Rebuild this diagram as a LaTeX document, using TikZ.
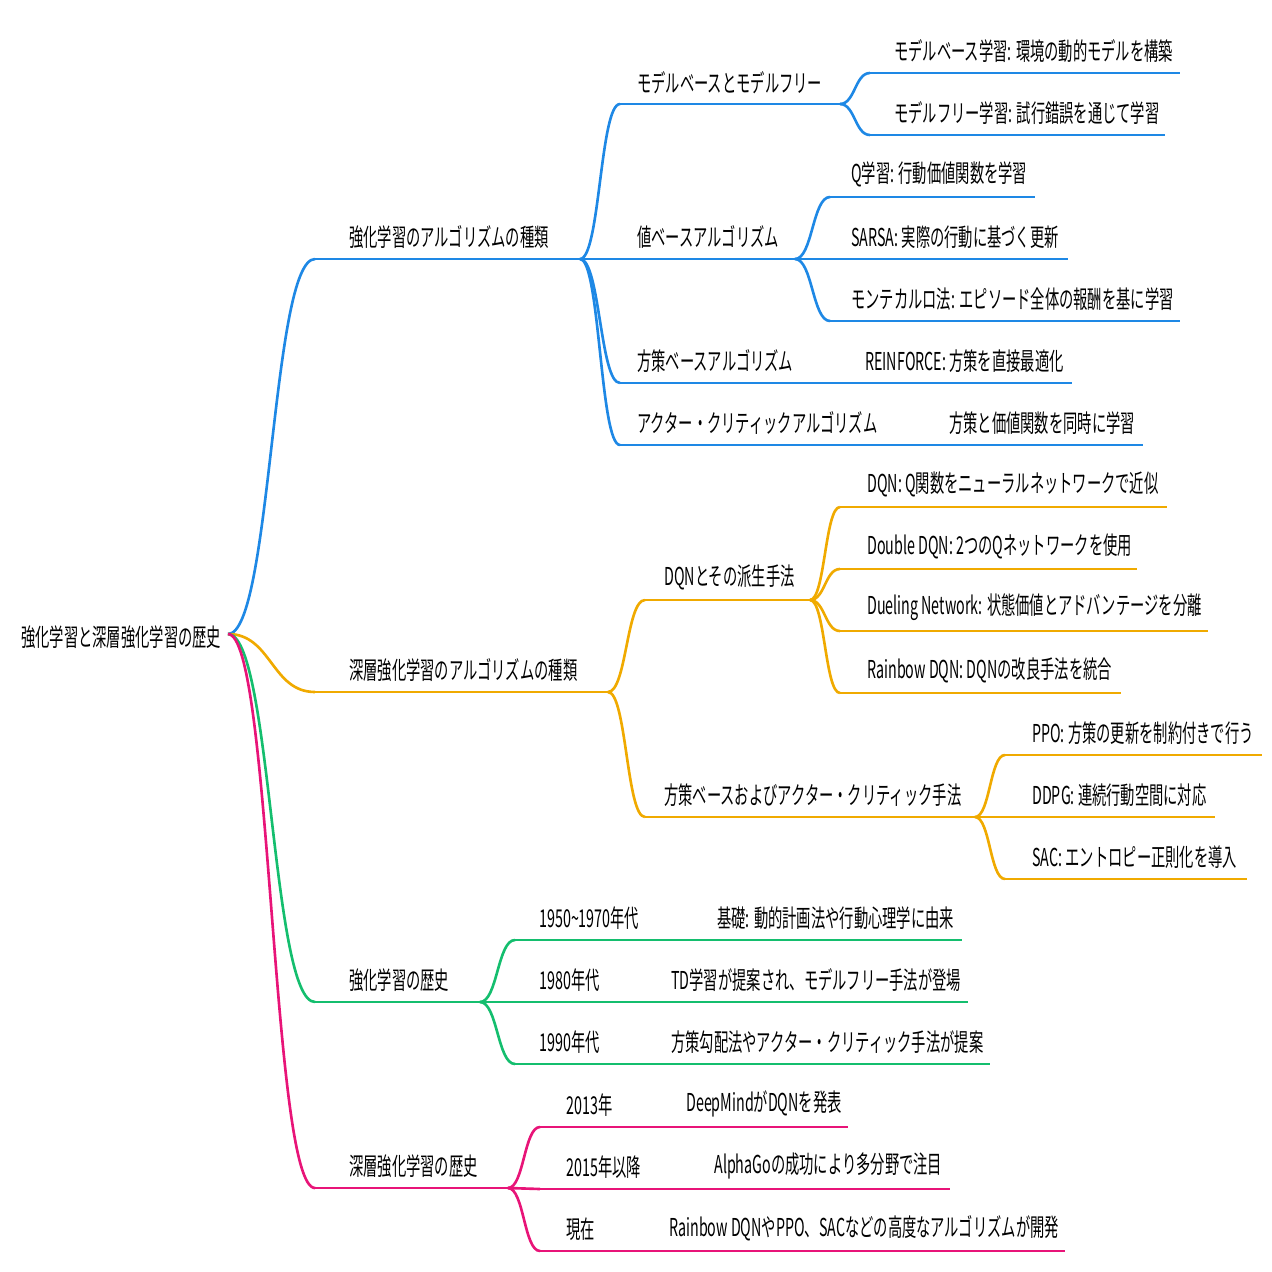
\documentclass[tikz,border=0pt]{standalone}
\usepackage{fontspec}
\setmainfont{Noto Sans CJK JP}[FakeStretch=0.58]
\usetikzlibrary{calc}

\definecolor{cblue}{RGB}{30,136,229}
\definecolor{corange}{RGB}{240,170,0}
\definecolor{cgreen}{RGB}{20,190,110}
\definecolor{cpink}{RGB}{232,20,120}

% one map entry: name, colour, line from, line to, line y, text x, text
\newcommand\mnode[7]{%
  \coordinate (#1s) at (#3,#5);
  \coordinate (#1e) at (#4,#5);
  \draw[#2] (#1s) -- (#1e);
  \node[lbl] (#1) at (#6,#5-9) {#7};}
% curved branch between two named points
\newcommand\lnk[3]{%
  \draw[#1] let \p1=(#2), \p2=(#3) in
    (#2) .. controls (\x1/2+\x2/2,\y1) and (\x1/2+\x2/2,\y2) .. (#3);}

\begin{document}
\begin{tikzpicture}[x=0.01cm, y=-0.01cm, line width=0.75pt,
    lbl/.style={anchor=south west, inner sep=0pt, font=\fontsize{7}{8}\selectfont}]
  \useasboundingbox (0,0) rectangle (1272,1272);

  % root
  \node[lbl] (root) at (20,650) {強化学習と深層強化学習の歴史};
  \coordinate (roote) at (228,634);

  % RL algorithms
  \mnode{alg}{cblue}{315}{580}{259}{348}{強化学習のアルゴリズムの種類}
  \mnode{mb}{cblue}{620}{840}{104}{636}{モデルベースとモデルフリー}
  \mnode{mbA}{cblue}{870}{1180}{73}{893}{モデルベース学習: 環境の動的モデルを構築}
  \mnode{mbB}{cblue}{870}{1165}{135}{893}{モデルフリー学習: 試行錯誤を通じて学習}
  \mnode{vb}{cblue}{620}{795}{259}{636}{値ベースアルゴリズム}
  \mnode{vbA}{cblue}{830}{1035}{197}{850}{Q学習: 行動価値関数を学習}
  \mnode{vbB}{cblue}{830}{1068}{259}{850}{SARSA: 実際の行動に基づく更新}
  \mnode{vbC}{cblue}{830}{1180}{321}{850}{モンテカルロ法: エピソード全体の報酬を基に学習}
  \mnode{pb}{cblue}{620}{840}{383}{636}{方策ベースアルゴリズム}
  \mnode{pbA}{cblue}{840}{1072}{383}{864}{REINFORCE: 方策を直接最適化}
  \mnode{ac}{cblue}{620}{920}{445}{636}{アクター・クリティックアルゴリズム}
  \mnode{acA}{cblue}{920}{1143}{445}{948}{方策と価値関数を同時に学習}
  \lnk{cblue}{roote}{algs}
  \foreach \c in {mb,vb,pb,ac} {\lnk{cblue}{alge}{\c s}}
  \foreach \c in {mbA,mbB} {\lnk{cblue}{mbe}{\c s}}
  \foreach \c in {vbA,vbB,vbC} {\lnk{cblue}{vbe}{\c s}}

  % deep RL algorithms
  \mnode{dalg}{corange}{315}{608}{692}{348}{深層強化学習のアルゴリズムの種類}
  \mnode{dqn}{corange}{645}{810}{600}{663}{DQNとその派生手法}
  \mnode{dqnA}{corange}{840}{1167}{507}{866}{DQN: Q関数をニューラルネットワークで近似}
  \mnode{dqnB}{corange}{840}{1137}{569}{866}{Double DQN: 2つのQネットワークを使用}
  \mnode{dqnC}{corange}{840}{1208}{631}{866}{Dueling Network: 状態価値とアドバンテージを分離}
  \mnode{dqnD}{corange}{840}{1121}{693}{866}{Rainbow DQN: DQNの改良手法を統合}
  \mnode{pac}{corange}{645}{975}{817}{663}{方策ベースおよびアクター・クリティック手法}
  \mnode{pacA}{corange}{1005}{1262}{755}{1031}{PPO: 方策の更新を制約付きで行う}
  \mnode{pacB}{corange}{1005}{1215}{817}{1031}{DDPG: 連続行動空間に対応}
  \mnode{pacC}{corange}{1005}{1247}{879}{1031}{SAC: エントロピー正則化を導入}
  \lnk{corange}{roote}{dalgs}
  \foreach \c in {dqn,pac} {\lnk{corange}{dalge}{\c s}}
  \foreach \c in {dqnA,dqnB,dqnC,dqnD} {\lnk{corange}{dqne}{\c s}}
  \foreach \c in {pacA,pacB,pacC} {\lnk{corange}{pace}{\c s}}

  % history of RL
  \mnode{hist}{cgreen}{315}{480}{1002}{348}{強化学習の歴史}
  \mnode{hA}{cgreen}{515}{695}{940}{538}{1950\textasciitilde1970年代}
  \mnode{hAx}{cgreen}{695}{962}{940}{716}{基礎: 動的計画法や行動心理学に由来}
  \mnode{hB}{cgreen}{515}{650}{1002}{538}{1980年代}
  \mnode{hBx}{cgreen}{650}{968}{1002}{670}{TD学習が提案され、モデルフリー手法が登場}
  \mnode{hC}{cgreen}{515}{650}{1064}{538}{1990年代}
  \mnode{hCx}{cgreen}{650}{990}{1064}{670}{方策勾配法やアクター・クリティック手法が提案}
  \lnk{cgreen}{roote}{hists}
  \foreach \c in {hA,hB,hC} {\lnk{cgreen}{histe}{\c s}}

  % history of deep RL
  \mnode{dhist}{cpink}{315}{508}{1188}{348}{深層強化学習の歴史}
  \mnode{dA}{cpink}{540}{665}{1127}{565}{2013年}
  \mnode{dAx}{cpink}{665}{848}{1127}{685}{DeepMindがDQNを発表}
  \mnode{dB}{cpink}{540}{693}{1189}{565}{2015年以降}
  \mnode{dBx}{cpink}{693}{950}{1189}{713}{AlphaGoの成功により多分野で注目}
  \mnode{dC}{cpink}{540}{648}{1251}{565}{現在}
  \mnode{dCx}{cpink}{648}{1065}{1251}{668}{Rainbow DQNやPPO、SACなどの高度なアルゴリズムが開発}
  \lnk{cpink}{roote}{dhists}
  \foreach \c in {dA,dB,dC} {\lnk{cpink}{dhiste}{\c s}}
\end{tikzpicture}
\end{document}
